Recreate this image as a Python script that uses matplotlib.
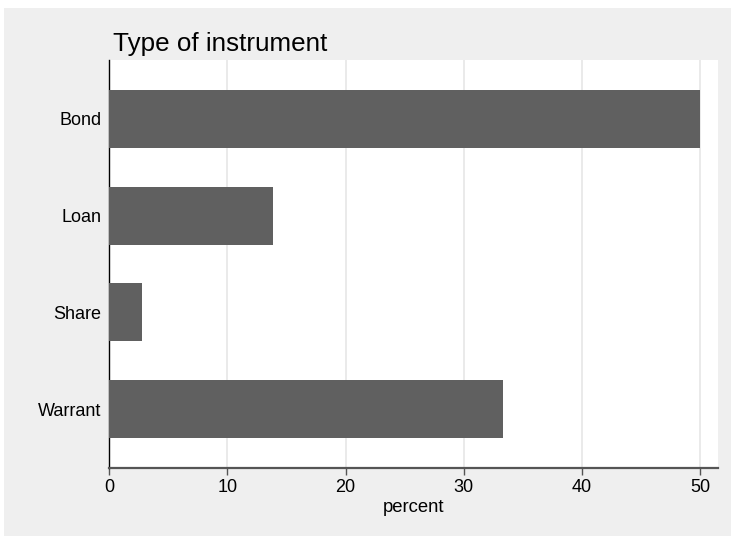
import matplotlib.pyplot as plt
from matplotlib.patches import Rectangle

# Share of instruments (percent)
categories = ["Bond", "Loan", "Share", "Warrant"]
percent = [50.0, 13.89, 2.78, 33.33]
xticks = [0, 10, 20, 30, 40, 50]

plt.rcParams["font.family"] = ["Liberation Sans", "DejaVu Sans"]

fig = plt.figure(figsize=(7.31, 5.36), dpi=100, facecolor="white")

# Stata-like gray background panel
W, H = 731, 536
fig.patches.append(Rectangle((4 / W, 0), 1 - 4 / W, 1 - 8 / H,
                             transform=fig.transFigure, facecolor="#efefef",
                             edgecolor="none", zorder=-10))

ax = fig.add_axes([109 / W, 68 / H, (718 - 109) / W, (468 - 60) / H])
ax.set_zorder(5)
ax.set_facecolor("white")

ypos = list(range(len(categories)))
ax.barh(ypos, percent, height=0.6, color="#606060", zorder=3)

ax.set_ylim(len(categories) - 1 + 0.61, -0.61)
ax.set_xlim(0, 51.5)
ax.set_yticks(ypos)
ax.set_yticklabels(categories, fontsize=13)
ax.tick_params(axis="y", length=0, pad=5.5)
ax.set_xticks(xticks)
ax.tick_params(axis="x", length=5, width=1, color="#555555", labelsize=13, pad=3)

ax.grid(axis="x", color="#e6e6e6", linewidth=1.2, zorder=0)
ax.set_axisbelow(True)

for s in ["top", "right"]:
    ax.spines[s].set_visible(False)
ax.spines["left"].set_color("black")
ax.spines["left"].set_linewidth(1)
ax.spines["bottom"].set_color("#555555")
ax.spines["bottom"].set_linewidth(1.6)

ax.set_xlabel("percent", fontsize=13.3, labelpad=2)

fig.text(113 / W, 1 - 51 / H, "Type of instrument", fontsize=18.7,
         ha="left", va="baseline", zorder=6)

fig.savefig("out.png", dpi=100, facecolor=fig.get_facecolor())
